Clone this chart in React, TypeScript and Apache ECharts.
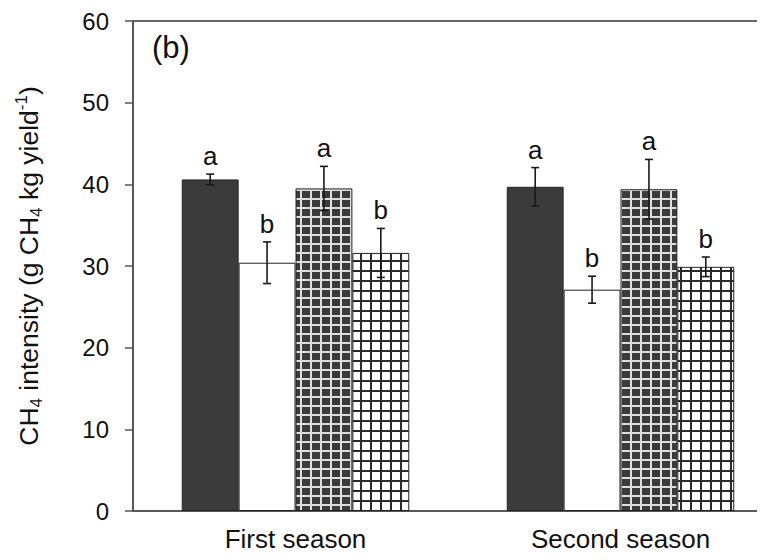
import React, { useEffect, useRef } from "react";
import * as echarts from "echarts";

const categories = ["First season", "Second season"];
const treatmentNames = ["T1", "T2", "T3", "T4"];
const meanT1 = [40.6, 39.7];
const meanT2 = [30.4, 27.1];
const meanT3 = [39.5, 39.4];
const meanT4 = [31.6, 29.9];
const errT1 = [0.65, 2.35];
const errT2 = [2.55, 1.65];
const errT3 = [2.7, 3.65];
const errT4 = [3.0, 1.2];
const lettersT1 = ["a", "a"];
const lettersT2 = ["b", "b"];
const lettersT3 = ["a", "a"];
const lettersT4 = ["b", "b"];
const yTicks = [0, 10, 20, 30, 40, 50, 60];
const panelLabel = "(b)";

const FONT = "Liberation Sans, Arial, Helvetica, sans-serif";

function makeGridPattern(bg: string, line: string, w: number, h: number, lw: number) {
  const c = document.createElement("canvas");
  c.width = w;
  c.height = h;
  const ctx = c.getContext("2d")!;
  ctx.fillStyle = bg;
  ctx.fillRect(0, 0, w, h);
  ctx.fillStyle = line;
  ctx.fillRect(0, 0, lw, h);
  ctx.fillRect(0, 0, w, lw);
  return c;
}

export default function App() {
  const ref = useRef<HTMLDivElement>(null);
  useEffect(() => {
    if (!ref.current) return;
    const chart = echarts.init(ref.current, undefined, { renderer: "svg" });
    const darkHatch = makeGridPattern("#3b3b3b", "#dedede", 10, 9, 2);
    const whiteHatch = makeGridPattern("#ffffff", "#2a2a2a", 10, 10, 2);

    const means = [meanT1, meanT2, meanT3, meanT4];
    const errs = [errT1, errT2, errT3, errT4];
    const letters = [lettersT1, lettersT2, lettersT3, lettersT4];
    const fills: any[] = [
      "#3b3b3b",
      "#ffffff",
      { image: darkHatch, repeat: "repeat" },
      { image: whiteHatch, repeat: "repeat" },
    ];
    const gapRatio = 0.3;

    const errData: any[] = [];
    const errLetters: string[] = [];
    means.forEach((m, si) => {
      m.forEach((v, ci) => {
        errData.push([ci, v, errs[si][ci], si]);
        errLetters.push(letters[si][ci]);
      });
    });

    const barSeries = means.map((m, si) => ({
      type: "bar",
      name: treatmentNames[si],
      data: m,
      barGap: "0%",
      barCategoryGap: "30%",
      itemStyle: { color: fills[si], borderColor: "#222", borderWidth: 1 },
      z: 2,
    }));

    chart.setOption({
      animation: false,
      backgroundColor: "#ffffff",
      grid: {
        left: 133,
        top: 21,
        right: -18,
        bottom: 49,
        outerBoundsMode: "none",
        containLabel: false,
        show: true,
        borderColor: "#666",
        borderWidth: 2,
        backgroundColor: "transparent",
      },
      xAxis: {
        type: "category",
        data: categories,
        axisLine: { lineStyle: { color: "#555", width: 1.5 } },
        axisTick: { show: false },
        axisLabel: { fontSize: 26, fontFamily: FONT, color: "#111", margin: 15 },
      },
      yAxis: {
        type: "value",
        min: yTicks[0],
        max: yTicks[yTicks.length - 1],
        interval: 10,
        splitLine: { show: false },
        axisLine: { show: true, lineStyle: { color: "#555", width: 1.5 } },
        axisTick: { show: true, length: 8, lineStyle: { color: "#555", width: 1.5 } },
        axisLabel: { fontSize: 24, fontFamily: FONT, color: "#111", margin: 24 },
        name: "{n|CH}{s|4}{n| intensity (g CH}{s|4}{n| kg yield}{p|-1}{n|)}",
        nameLocation: "middle",
        nameRotate: 90,
        nameGap: 88,
        nameTextStyle: {
          fontFamily: FONT,
          color: "#111",
          rich: {
            n: { fontSize: 26.5, lineHeight: 32, fontFamily: FONT, color: "#111", verticalAlign: "middle" },
            s: { fontSize: 17, lineHeight: 17, fontFamily: FONT, color: "#111", verticalAlign: "bottom" },
            p: { fontSize: 17, lineHeight: 17, fontFamily: FONT, color: "#111", verticalAlign: "top" },
          },
        },
      },
      graphic: [
        {
          type: "text",
          left: 152,
          top: 32,
          style: { text: panelLabel, fontSize: 31, fontFamily: FONT, fill: "#111" },
        },
      ],
      series: [
        ...barSeries,
        {
          type: "custom",
          coordinateSystem: "cartesian2d",
          encode: { x: 0, y: 1 },
          data: errData,
          z: 5,
          renderItem: (params: any, api: any) => {
            const cat = api.value(0);
            const mean = api.value(1);
            const err = api.value(2);
            const si = api.value(3);
            const band = api.size([1, 0])[0];
            const total = band * (1 - gapRatio);
            const bw = total / 4;
            const cx = api.coord([cat, 0])[0] - total / 2 + bw * (si + 0.5);
            const yT = api.coord([cat, mean + err])[1];
            const yB = api.coord([cat, mean - err])[1];
            const cap = 4;
            const ls = { stroke: "#1a1a1a", lineWidth: 1.6 };
            return {
              type: "group",
              children: [
                { type: "line", shape: { x1: cx, y1: yT, x2: cx, y2: yB }, style: ls },
                { type: "line", shape: { x1: cx - cap, y1: yT, x2: cx + cap, y2: yT }, style: ls },
                { type: "line", shape: { x1: cx - cap, y1: yB, x2: cx + cap, y2: yB }, style: ls },
                {
                  type: "text",
                  style: {
                    text: errLetters[params.dataIndex],
                    x: cx,
                    y: yT - 5,
                    align: "center",
                    verticalAlign: "bottom",
                    fontSize: 26,
                    fontFamily: FONT,
                    fill: "#111",
                  },
                },
              ],
            };
          },
        },
      ],
    });
    return () => chart.dispose();
  }, []);
  return <div ref={ref} style={{ width: 765, height: 560, margin: -8 }} />;
}
